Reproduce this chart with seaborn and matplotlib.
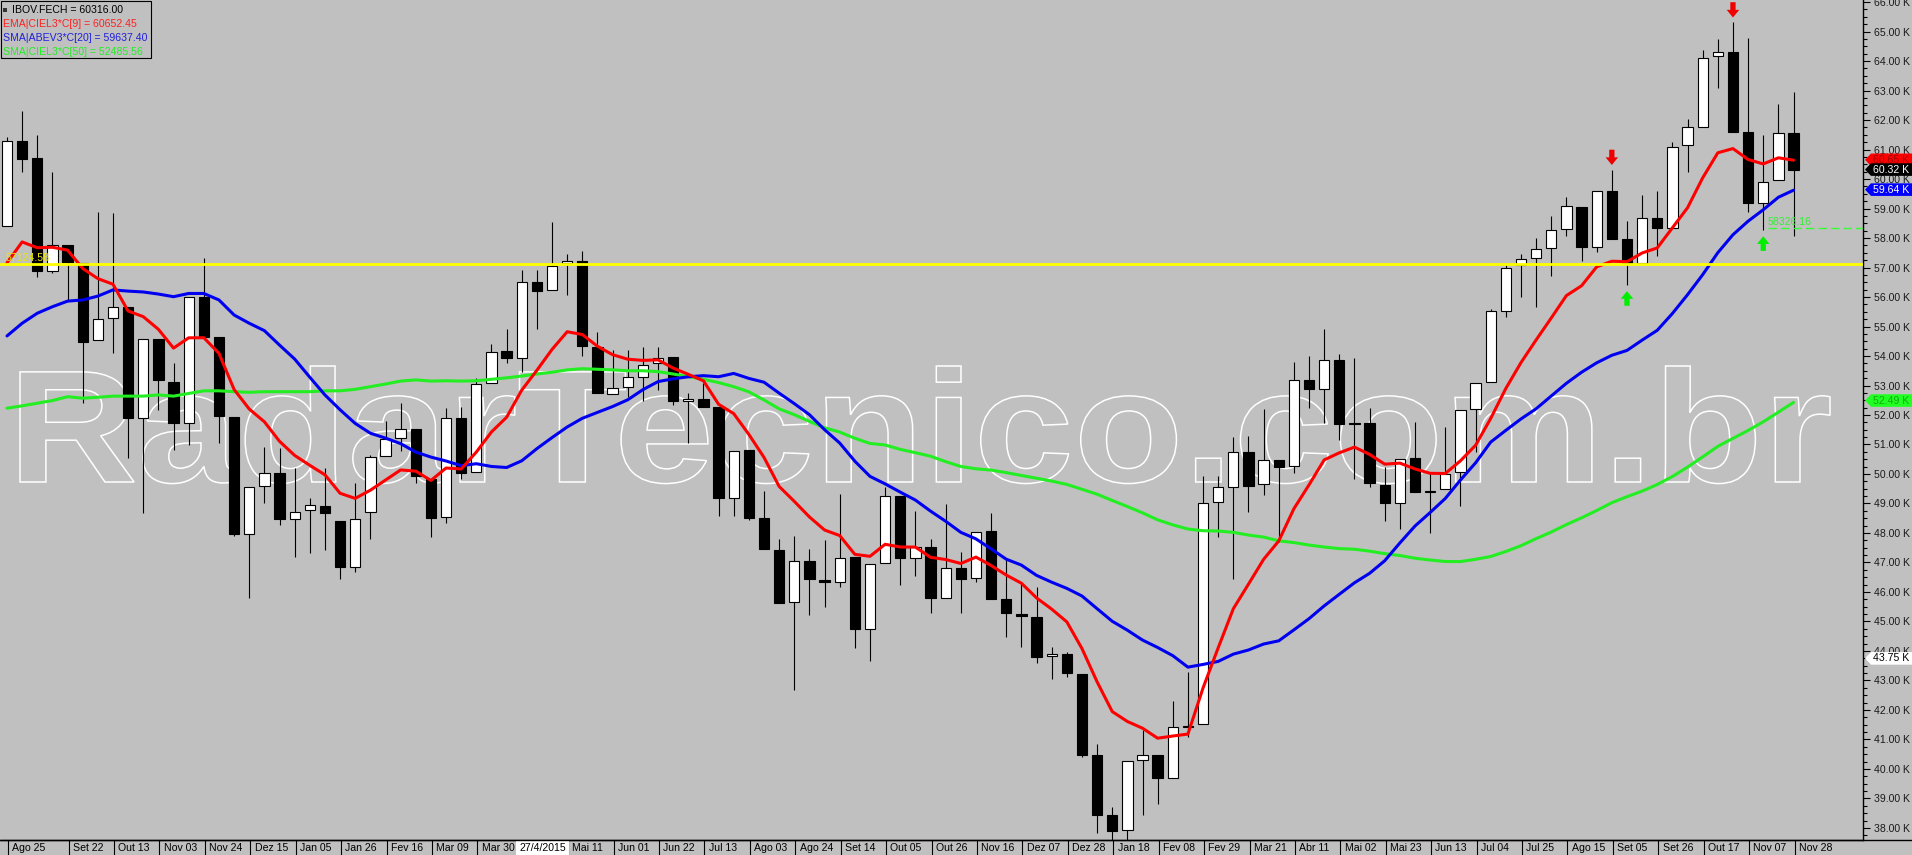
import numpy as np
import pandas as pd
import matplotlib
matplotlib.use("Agg")
import matplotlib.pyplot as plt
import seaborn as sns
from matplotlib.patches import Rectangle, Polygon, PathPatch
from matplotlib.textpath import TextPath
from matplotlib.font_manager import FontProperties, fontManager
from matplotlib.transforms import Affine2D, blended_transform_factory
from matplotlib.lines import Line2D
import matplotlib.ticker as mticker

# ---------------- data (IBOV weekly, thousands of points) ----------------
opens = [58.41, 61.29, 60.70, 56.89, 57.76, 57.16, 54.54, 55.28, 55.67, 51.89,
         54.57, 53.13, 51.72, 56.01, 54.65, 51.92, 47.97, 49.59, 50.04, 48.46,
         48.78, 48.92, 48.41, 46.86, 48.72, 50.61, 51.21, 51.51, 49.82, 48.53,
         51.89, 50.06, 53.08, 54.17, 53.92, 56.50, 56.24, 57.14, 57.22, 54.32,
         52.70, 52.94, 53.30, 53.75, 53.95, 52.47, 52.53, 52.26, 49.18, 50.81,
         48.50, 47.42, 45.65, 47.05, 46.41, 46.33, 47.17, 44.73, 46.97, 49.25,
         47.16, 47.51, 45.79, 46.80, 46.46, 48.07, 45.76, 45.24, 45.14, 43.83,
         43.90, 43.22, 40.47, 38.44, 37.93, 40.30, 40.47, 39.69, 41.43, 41.53,
         49.05, 49.57, 50.73, 49.65, 50.47, 50.27, 53.19, 52.87, 53.86, 51.72,
         51.72, 49.63, 49.01, 50.53, 49.38, 49.48, 50.06, 52.19, 53.11, 55.54,
         57.07, 57.31, 57.65, 58.32, 59.06, 57.71, 59.59, 57.97, 57.14, 58.67,
         58.35, 61.15, 61.77, 64.17, 64.29, 61.58, 59.18, 59.97, 61.55]
highs = [61.43, 62.31, 61.49, 60.25, 57.76, 57.16, 58.87, 58.84, 55.67, 54.57,
         54.57, 53.75, 56.01, 57.31, 54.65, 51.92, 49.55, 50.93, 50.87, 50.19,
         49.18, 50.19, 48.41, 49.71, 50.64, 51.81, 52.39, 51.51, 49.82, 52.23,
         52.26, 53.24, 54.41, 54.90, 56.92, 56.92, 58.53, 57.46, 57.56, 54.82,
         54.20, 54.22, 54.32, 54.29, 53.95, 52.74, 53.08, 52.26, 50.78, 50.81,
         49.42, 47.81, 47.90, 47.46, 47.76, 49.32, 47.17, 46.94, 49.57, 49.25,
         48.73, 47.78, 48.98, 47.34, 48.05, 48.67, 47.08, 46.27, 46.16, 44.15,
         43.98, 43.22, 40.85, 38.72, 40.27, 41.32, 40.47, 42.32, 43.28, 49.94,
         49.94, 51.24, 51.29, 52.19, 50.47, 53.81, 54.00, 54.92, 54.07, 53.92,
         52.23, 50.25, 50.51, 51.77, 50.02, 51.60, 52.17, 53.08, 55.58, 57.14,
         57.46, 57.99, 58.75, 59.40, 59.06, 59.59, 60.31, 58.59, 59.46, 59.59,
         61.24, 62.03, 64.37, 64.73, 65.31, 64.77, 61.49, 62.53, 62.94]
lows = [58.41, 60.25, 56.67, 56.82, 55.90, 52.42, 54.54, 54.09, 50.53, 48.67,
        52.17, 50.81, 50.98, 54.63, 51.04, 47.90, 45.78, 49.03, 48.27, 47.20,
        47.31, 47.42, 46.43, 46.69, 47.79, 50.61, 50.79, 49.71, 47.85, 48.33,
        49.82, 50.06, 53.08, 53.75, 53.47, 54.93, 56.24, 56.07, 54.01, 52.74,
        52.70, 52.62, 52.48, 52.84, 52.34, 51.06, 52.28, 48.56, 48.56, 48.44,
        47.45, 45.64, 42.68, 45.22, 45.50, 46.16, 44.09, 43.67, 46.97, 46.24,
        46.54, 45.29, 45.79, 45.29, 46.33, 45.76, 44.49, 44.15, 43.60, 43.04,
        43.13, 40.40, 37.84, 37.55, 37.05, 38.44, 38.81, 39.69, 41.09, 41.53,
        47.85, 46.44, 48.72, 49.29, 47.70, 50.02, 52.25, 51.72, 51.15, 49.83,
        49.55, 48.41, 48.12, 49.38, 47.99, 49.48, 48.90, 50.76, 53.11, 55.33,
        55.99, 55.67, 56.71, 58.07, 57.23, 57.52, 57.97, 56.41, 57.14, 57.39,
        58.35, 60.25, 61.77, 63.09, 61.60, 58.89, 58.27, 59.97, 58.07]
closes = [61.29, 60.69, 56.89, 57.75, 57.20, 54.48, 55.25, 55.67, 51.89, 54.57,
          53.19, 51.72, 56.01, 54.63, 51.97, 47.97, 49.55, 50.04, 48.46, 48.72,
          48.95, 48.69, 46.84, 48.48, 50.56, 51.17, 51.51, 49.93, 48.52, 51.89,
          50.04, 53.04, 54.15, 53.92, 56.52, 56.21, 57.05, 57.22, 54.35, 52.74,
          52.90, 53.28, 53.69, 53.94, 52.48, 52.53, 52.28, 49.18, 50.78, 48.52,
          47.45, 45.64, 47.05, 46.43, 46.33, 47.16, 44.73, 46.94, 49.25, 47.16,
          47.51, 45.79, 46.80, 46.43, 48.05, 45.76, 45.28, 45.19, 43.81, 43.90,
          43.26, 40.47, 38.44, 37.91, 40.27, 40.47, 39.69, 41.41, 41.45, 49.01,
          49.55, 50.73, 49.60, 50.47, 50.23, 53.19, 52.87, 53.86, 51.68, 51.68,
          49.68, 49.01, 50.51, 49.38, 49.43, 49.99, 52.17, 53.08, 55.53, 56.97,
          57.28, 57.62, 58.27, 59.08, 57.71, 59.59, 57.97, 57.14, 58.67, 58.35,
          61.07, 61.75, 64.09, 64.29, 61.60, 59.18, 59.91, 61.55, 60.316]

# moving-average warm-up values (history before first bar)
ema9_start = 57.16
sma20_warmup = [54.68, 55.11, 55.45, 55.67, 55.86, 55.90, 56.03, 56.24, 56.20, 56.17,
                56.10, 56.01, 56.12, 56.12, 55.90, 55.39, 55.11, 54.86, 54.37]
sma50_warmup = [52.23, 52.31, 52.40, 52.49, 52.62, 52.57, 52.60, 52.64, 52.64, 52.64,
                52.68, 52.64, 52.73, 52.82, 52.82, 52.79, 52.77, 52.79, 52.79, 52.79,
                52.79, 52.82, 52.82, 52.87, 52.96, 53.05, 53.15, 53.19, 53.15, 53.16,
                53.15, 53.16, 53.21, 53.26, 53.32, 53.39, 53.45, 53.53, 53.57, 53.55,
                53.53, 53.50, 53.50, 53.47, 53.39, 53.30, 53.21, 53.10, 52.96]

tick_pos = [0, 4, 7, 10, 13, 16, 19, 22, 25, 28, 31, 37, 40, 43, 46, 49, 52, 55,
            58, 61, 64, 67, 70, 73, 76, 79, 82, 85, 88, 91, 94, 97, 100, 103, 106,
            109, 112, 115, 118]
tick_labels = ["Ago 25", "Set 22", "Out 13", "Nov 03", "Nov 24", "Dez 15", "Jan 05",
               "Jan 26", "Fev 16", "Mar 09", "Mar 30", "Mai 11", "Jun 01",
               "Jun 22", "Jul 13", "Ago 03", "Ago 24", "Set 14", "Out 05", "Out 26",
               "Nov 16", "Dez 07", "Dez 28", "Jan 18", "Fev 08", "Fev 29", "Mar 21",
               "Abr 11", "Mai 02", "Mai 23", "Jun 13", "Jul 04", "Jul 25", "Ago 15",
               "Set 05", "Set 26", "Out 17", "Nov 07", "Nov 28"]
cursor_idx = 35
cursor_label = "27/4/2015"
cursor_price = 43.75

legend_close = 60316.00
legend_ema = 60652.45
legend_sma20 = 59637.40
legend_sma50 = 52485.56

hline_level = 57124.58
stop_level = 58326.16
stop_start_idx = 116

sell_signals = [106, 114]
buy_signals = [107, 116]

# ---------------- derived ----------------
o = np.array(opens); h = np.array(highs); l = np.array(lows); c = np.array(closes)
n = len(c)
idx = np.arange(n)
ema = np.empty(n); ema[0] = ema9_start
alpha = 2.0 / (9 + 1)
for i in range(1, n):
    ema[i] = ema[i - 1] + alpha * (c[i] - ema[i - 1])
sma20 = pd.Series(c).rolling(20).mean().to_numpy(); sma20[:19] = sma20_warmup
sma50 = pd.Series(c).rolling(50).mean().to_numpy(); sma50[:49] = sma50_warmup

# ---------------- figure ----------------
W, H = 1912, 855
BG = "#C0C0C0"
sns.set_style("white")
plt.rcParams["font.family"] = ["Liberation Sans", "DejaVu Sans"]
names = {f.name for f in fontManager.ttflist}
narrow = "Liberation Sans Narrow" in names
xfont = "Liberation Sans Narrow" if narrow else "Liberation Sans"
xsize = 9.2 if narrow else 7.6

fig = plt.figure(figsize=(W / 100, H / 100), dpi=100, facecolor=BG)
ax = fig.add_axes([0, 15 / H, 1863 / W, 840 / H], facecolor=BG)
x_left = (0 - 7) / 15.14
x_right = (1863 - 7) / 15.14
ax.set_xlim(x_left, x_right)
ax.set_ylim(37.593, 66.068)

# watermark (outlined text)
fp = FontProperties(family="Liberation Sans", weight="bold")
tp = TextPath((0, 0), "RadarTecnico.com.br", size=100, prop=fp)
bb = tp.get_extents()
x0p, x1p, ytop, ybase = 20, 1830, 366, 482
sx = (x1p - x0p) / W / (bb.x1 - bb.x0)
sy = (ybase - ytop) / H / (bb.y1 - 0)
aff = Affine2D().translate(-bb.x0, 0).scale(sx, sy).translate(x0p / W, 1 - ybase / H)
wm = PathPatch(tp, transform=aff + fig.transFigure, fc="none", ec="white", lw=1.1,
               zorder=0.5, clip_on=False)
ax.add_artist(wm)

# candles
up = c >= o
body_lo = np.minimum(o, c)
body_h = np.maximum(np.abs(c - o), 0.04)
ax.vlines(idx, l, h, color="black", lw=0.8, zorder=2)
ax.bar(idx, body_h, bottom=body_lo, width=0.68,
       color=np.where(up, "white", "black"), edgecolor="black", lw=0.8, zorder=2.2)

# moving averages
sns.lineplot(x=idx, y=sma50, ax=ax, color="#22EE22", lw=2.2, zorder=3, legend=False)
sns.lineplot(x=idx, y=sma20, ax=ax, color="#0000F0", lw=2.2, zorder=3.1, legend=False)
sns.lineplot(x=idx, y=ema, ax=ax, color="#FF0000", lw=2.2, zorder=3.2, legend=False)

# horizontal yellow line
ax.axhline(hline_level / 1000, color="#FFFF00", lw=2.0, zorder=4)
ax.text(x_left + 0.35, hline_level / 1000 + 0.02, f"{hline_level:.2f}", color="#E8E800",
        fontsize=7.6, va="bottom", ha="left", zorder=4)

# stop line
ax.plot([stop_start_idx + 0.3, x_right], [stop_level / 1000] * 2, color="#33FF33",
        lw=1.0, ls=(0, (6, 3)), zorder=4)
ax.text(stop_start_idx + 0.3, stop_level / 1000 + 0.03, f"{stop_level:.2f}",
        color="#33EE33", fontsize=7.6, va="bottom", ha="left", zorder=4)

# signal arrows
for i in sell_signals:
    ax.annotate("", xy=(i, h[i]), xytext=(0, 14.5), textcoords="offset points",
                arrowprops=dict(arrowstyle="simple,head_length=0.55,head_width=0.9,tail_width=0.38",
                                fc="#EE0000", ec="none", shrinkA=0, shrinkB=3.5), zorder=5)
for i in buy_signals:
    ax.annotate("", xy=(i, l[i]), xytext=(0, -15), textcoords="offset points",
                arrowprops=dict(arrowstyle="simple,head_length=0.55,head_width=0.9,tail_width=0.38",
                                fc="#00EE00", ec="none", shrinkA=0, shrinkB=4.5), zorder=5)

# axes styling
for s in ["top", "left"]:
    ax.spines[s].set_visible(False)
ax.spines["right"].set_color("black"); ax.spines["right"].set_linewidth(1.0)
ax.spines["bottom"].set_color("black"); ax.spines["bottom"].set_linewidth(1.0)
ax.yaxis.tick_right()
ax.yaxis.set_major_locator(mticker.MultipleLocator(1))
ax.yaxis.set_minor_locator(mticker.MultipleLocator(0.25))
ax.yaxis.set_major_formatter(mticker.FuncFormatter(lambda v, p: f"{v:.2f} K"))
ax.tick_params(axis="y", which="major", length=5, width=0.8, direction="out",
               labelsize=7.6, pad=3, colors="black", labelcolor="#1a1a1a")
ax.tick_params(axis="y", which="minor", length=3, width=0.8, direction="out", colors="black")
ax.set_xticks([])
ax.grid(False)

# x labels in the strip
xt = ax.get_xaxis_transform()
for p, lab in zip(tick_pos, tick_labels):
    ax.add_line(Line2D([p + 0.07, p + 0.07], [0, -15 / 840], transform=xt, color="black",
                       lw=0.8, clip_on=False))
    ax.text(p + 0.35, -7.8 / 840, lab, transform=xt, ha="left", va="center",
            fontsize=xsize, family=xfont, color="black", clip_on=False)
# cursor date box
ax.add_artist(Rectangle((cursor_idx - 1.38, -15 / 840), 3.5, 14.5 / 840, transform=xt,
                        fc="white", ec="none", clip_on=False, zorder=6))
ax.text(cursor_idx + 0.37, -7.8 / 840, cursor_label, transform=xt, ha="center", va="center",
        fontsize=xsize, family=xfont, color="black", clip_on=False, zorder=7)

fig.add_artist(Line2D([0, 1], [15 / H, 15 / H], transform=fig.transFigure, color="black", lw=1.0))

# price tags on the right axis
tr = blended_transform_factory(fig.transFigure, ax.transData)
hh = 6.3 / 29.5
def tag(v, fc, tc, z):
    pts = [(1865 / W, v), (1871 / W, v + hh), (1.0, v + hh), (1.0, v - hh), (1871 / W, v - hh)]
    ax.add_artist(Polygon(pts, closed=True, transform=tr, fc=fc, ec="none", clip_on=False, zorder=z))
    ax.text(1873 / W, v, f"{v:.2f} K", transform=tr, color=tc, fontsize=7.6, ha="left",
            va="center", clip_on=False, zorder=z + 0.5)
tag(round(legend_ema / 1000, 2), "#FF0000", "#A00000", 8)
tag(round(legend_close / 1000, 2), "#000000", "white", 9)
tag(round(legend_sma20 / 1000, 2), "#0000FF", "white", 10)
tag(round(legend_sma50 / 1000, 2), "#22FF22", "#11AA11", 8)
tag(cursor_price, "white", "black", 8)

# legend box top-left
fig.add_artist(Rectangle((1 / W, 1 - 58 / H), 150 / W, 57 / H, transform=fig.transFigure,
                         fc=BG, ec="black", lw=0.8, zorder=5))
fig.add_artist(Rectangle((3 / W, 1 - 12 / H), 4 / W, 4 / H, transform=fig.transFigure,
                         fc="#333333", ec="none", zorder=6))
leg = [(f"IBOV.FECH = {legend_close:.2f}", "black", 12, 10),
       (f"EMA|CIEL3*C[9] = {legend_ema:.2f}", "#FF2020", 3, 24),
       (f"SMA|ABEV3*C[20] = {legend_sma20:.2f}", "#2020E0", 3, 38),
       (f"SMA|CIEL3*C[50] = {legend_sma50:.2f}", "#22EE22", 3, 52)]
for txt, col, xp, yp in leg:
    fig.text(xp / W, 1 - yp / H, txt, color=col, fontsize=7.6, ha="left", va="center", zorder=7)

fig.savefig("out.png", dpi=100, facecolor=BG)
